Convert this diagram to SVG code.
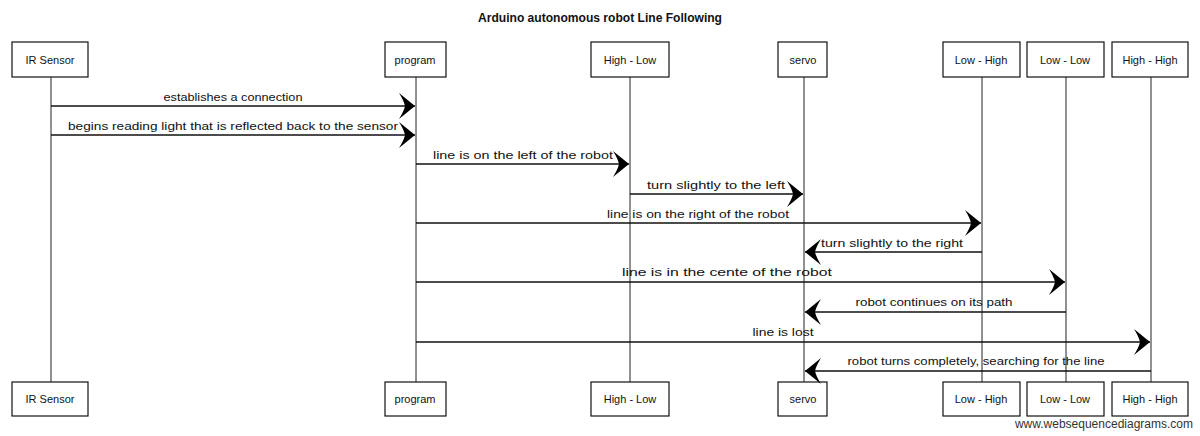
<svg xmlns="http://www.w3.org/2000/svg" width="1200" height="436" viewBox="0 0 1200 436">
<style>
.box{fill:#fff;stroke:#111;stroke-width:1.2}
.life{stroke:#222;stroke-width:1;fill:none}
.msg{stroke:#111;stroke-width:1.3;fill:none;marker-end:url(#ah)}
.nl{font-family:"Liberation Sans",Arial,sans-serif;font-size:11px;fill:#111;text-anchor:middle}
.ml{font-family:"Liberation Sans",Arial,sans-serif;font-size:11.5px;fill:#111;text-anchor:middle}
.title{font-family:"Liberation Sans",Arial,sans-serif;font-size:12px;font-weight:bold;fill:#111;text-anchor:middle}
.wm{font-family:"Liberation Sans",Arial,sans-serif;font-size:12px;fill:#333;text-anchor:end}
</style>
<defs>
<marker id="ah" viewBox="-18 -14 19 28" markerUnits="userSpaceOnUse" markerWidth="19" markerHeight="28" refX="0" refY="0" orient="auto">
<path d="M0,0 L-16,-13 Q-11,-5 -10,0 Q-11,5 -16,13 Z" fill="#000"/>
</marker>
</defs>
<text class="title" x="600" y="22" textLength="244" lengthAdjust="spacingAndGlyphs">Arduino autonomous robot Line Following</text>

<g id="p-ir">
<line class="life" x1="51" y1="77" x2="51" y2="382"/>
<rect class="box" x="12" y="42" width="76" height="35"/>
<text class="nl" x="50" y="64">IR Sensor</text>
<rect class="box" x="12" y="382" width="76" height="34"/>
<text class="nl" x="50" y="403">IR Sensor</text>
</g>
<g id="p-program">
<line class="life" x1="416" y1="77" x2="416" y2="382"/>
<rect class="box" x="385" y="42" width="61" height="35"/>
<text class="nl" x="415" y="64">program</text>
<rect class="box" x="385" y="382" width="61" height="34"/>
<text class="nl" x="415" y="403">program</text>
</g>
<g id="p-highlow">
<line class="life" x1="630" y1="77" x2="630" y2="382"/>
<rect class="box" x="591" y="42" width="78" height="35"/>
<text class="nl" x="630" y="64">High - Low</text>
<rect class="box" x="591" y="382" width="78" height="34"/>
<text class="nl" x="630" y="403">High - Low</text>
</g>
<g id="p-servo">
<line class="life" x1="804" y1="77" x2="804" y2="382"/>
<rect class="box" x="778" y="42" width="49" height="35"/>
<text class="nl" x="803" y="64">servo</text>
<rect class="box" x="778" y="382" width="49" height="34"/>
<text class="nl" x="803" y="403">servo</text>
</g>
<g id="p-lowhigh">
<line class="life" x1="982" y1="77" x2="982" y2="382"/>
<rect class="box" x="943" y="42" width="77" height="35"/>
<text class="nl" x="981" y="64">Low - High</text>
<rect class="box" x="943" y="382" width="77" height="34"/>
<text class="nl" x="981" y="403">Low - High</text>
</g>
<g id="p-lowlow">
<line class="life" x1="1066" y1="77" x2="1066" y2="382"/>
<rect class="box" x="1027" y="42" width="77" height="35"/>
<text class="nl" x="1065" y="64">Low - Low</text>
<rect class="box" x="1027" y="382" width="77" height="34"/>
<text class="nl" x="1065" y="403">Low - Low</text>
</g>
<g id="p-highhigh">
<line class="life" x1="1151" y1="77" x2="1151" y2="382"/>
<rect class="box" x="1112" y="42" width="76" height="35"/>
<text class="nl" x="1150" y="64">High - High</text>
<rect class="box" x="1112" y="382" width="76" height="34"/>
<text class="nl" x="1150" y="403">High - High</text>
</g>

<g id="connectors">
<line class="msg" x1="51" y1="106" x2="415" y2="106"/>
<text class="ml" x="233" y="101" textLength="139" lengthAdjust="spacingAndGlyphs">establishes a connection</text>
<line class="msg" x1="51" y1="135" x2="415" y2="135"/>
<text class="ml" x="233" y="130" textLength="330" lengthAdjust="spacingAndGlyphs">begins reading light that is reflected back to the sensor</text>
<line class="msg" x1="416" y1="164" x2="629" y2="164"/>
<text class="ml" x="523" y="159" textLength="180" lengthAdjust="spacingAndGlyphs">line is on the left of the robot</text>
<line class="msg" x1="630" y1="194" x2="803" y2="194"/>
<text class="ml" x="716" y="189" textLength="138" lengthAdjust="spacingAndGlyphs">turn slightly to the left</text>
<line class="msg" x1="416" y1="223" x2="981" y2="223"/>
<text class="ml" x="698" y="218" textLength="182" lengthAdjust="spacingAndGlyphs">line is on the right of the robot</text>
<line class="msg" x1="982" y1="252" x2="805" y2="252"/>
<text class="ml" x="892" y="247" textLength="142" lengthAdjust="spacingAndGlyphs">turn slightly to the right</text>
<line class="msg" x1="416" y1="282" x2="1065" y2="282"/>
<text class="ml" x="727" y="276" textLength="210" lengthAdjust="spacingAndGlyphs">line is in the cente of the robot</text>
<line class="msg" x1="1066" y1="312" x2="805" y2="312"/>
<text class="ml" x="934" y="306" textLength="157" lengthAdjust="spacingAndGlyphs">robot continues on its path</text>
<line class="msg" x1="416" y1="342" x2="1150" y2="342"/>
<text class="ml" x="783" y="336" textLength="61" lengthAdjust="spacingAndGlyphs">line is lost</text>
<line class="msg" x1="1151" y1="371" x2="805" y2="371"/>
<text class="ml" x="976" y="365" textLength="257" lengthAdjust="spacingAndGlyphs">robot turns completely, searching for the line</text>
</g>

<text class="wm" x="1193" y="428">www.websequencediagrams.com</text>
</svg>
